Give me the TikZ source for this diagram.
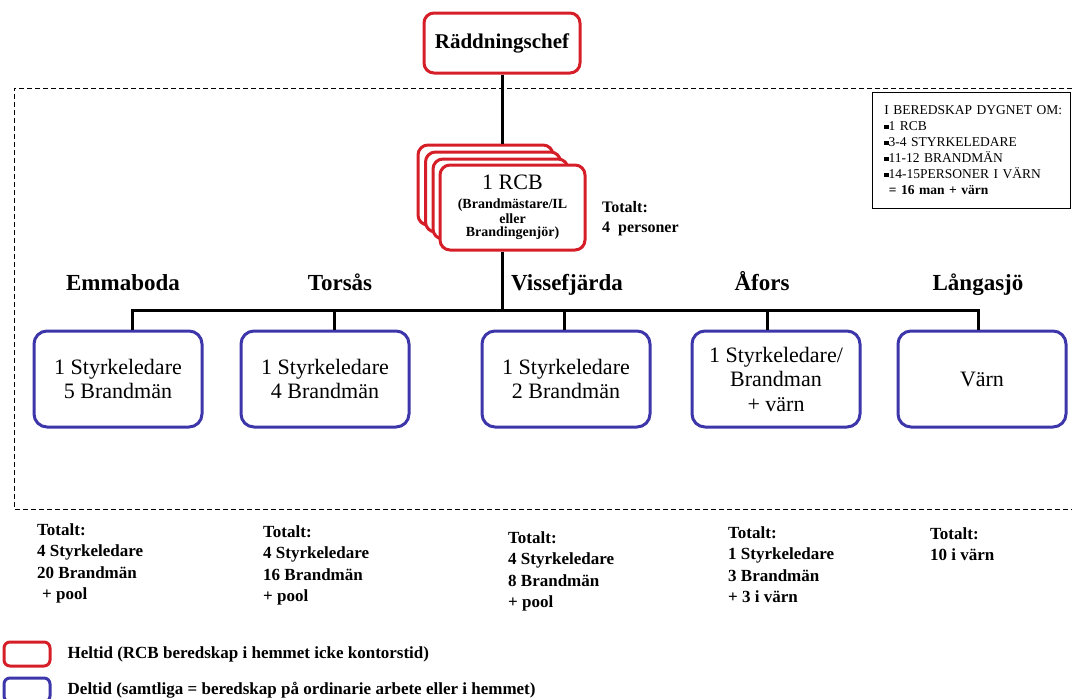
\documentclass[tikz,border=0pt]{standalone}
\usepackage{fontspec}
\setmainfont{Liberation Serif}
\usetikzlibrary{positioning}

\definecolor{heltidred}{RGB}{214,30,40}
\definecolor{deltidblue}{RGB}{60,54,170}
\newcommand{\sqbullet}{\rule[0.12em]{0.32em}{0.32em}}

\begin{document}
\begin{tikzpicture}[x=1pt, y=-1pt,
    link/.style={line width=3pt},
    heltid/.style={draw=heltidred, line width=3pt, rounded corners=10pt, fill=white, inner sep=0pt, align=center},
    deltid/.style={draw=deltidblue, line width=3pt, rounded corners=13pt, fill=white, inner sep=0pt, align=center,
        minimum width=168pt, minimum height=96pt, font=\fontsize{22}{24.5}\selectfont},
    ort/.style={inner sep=0pt, anchor=base, font=\bfseries\fontsize{23}{26}\selectfont},
    summa/.style={anchor=north west, inner sep=0pt, align=left, font=\bfseries\fontsize{17}{21.5}\selectfont}]

    \useasboundingbox (0,0) rectangle (1072,699);

    \draw[dashed, dash pattern=on 5pt off 3pt, line width=0.9pt] (1072,88) -- (14,88) -- (14,509) -- (1072,509);

    \node[heltid, minimum width=156pt, minimum height=60pt, font=\bfseries\fontsize{21}{24}\selectfont] (chef) at (502,43) {Räddningschef};

    % fyra RCB
    \foreach \i/\cx/\cy in {a/485.5/185, b/493/192, c/500.5/199}
        \node[heltid, minimum width=135pt, minimum height=80pt] (rcb\i) at (\cx,\cy) {};
    \node[heltid, minimum width=145pt, minimum height=85pt] (rcb) at (512.5,207.5)
        {\fontsize{22}{22}\selectfont 1 RCB\\[7pt]
         \bfseries\fontsize{14}{15}\selectfont (Brandmästare/IL\\[1pt]
         \bfseries\fontsize{14}{15}\selectfont eller\\[1pt]
         \bfseries\fontsize{14}{15}\selectfont Brandingenjör)};
    \node[summa, font=\bfseries\fontsize{16}{20}\selectfont] (rcbsum) at (602,201) {Totalt:\\4~~personer};

    \node[draw, line width=0.8pt, anchor=north west, inner xsep=6pt, text width=186pt, minimum height=116pt,
        align=left, font=\fontsize{13.5}{16}\selectfont] (info) at (872,92)
        {\hspace*{6pt}I BEREDSKAP DYGNET OM:\\
         \hspace*{6pt}\sqbullet1 RCB\\
         \hspace*{6pt}\sqbullet3-4 STYRKELEDARE\\
         \hspace*{6pt}\sqbullet11-12 BRANDMÄN\\
         \hspace*{6pt}\sqbullet14-15PERSONER I VÄRN\\
         \hspace*{6pt}\bfseries\ = 16 man + värn};

    \node[ort] (emmaort) at (123,290) {Emmaboda};
    \node[ort] (torsort) at (340,290) {Torsås};
    \node[ort] (vissort) at (567,290) {Vissefjärda};
    \node[ort] (aforsort) at (762,290) {Åfors};
    \node[ort] (langort) at (978,290) {Långasjö};

    \node[deltid] (emma) at (118,379) {1 Styrkeledare\\5 Brandmän};
    \node[deltid] (tors) at (325,379) {1 Styrkeledare\\4 Brandmän};
    \node[deltid] (viss) at (566,379) {1 Styrkeledare\\2 Brandmän};
    \node[deltid] (afors) at (776,379) {1 Styrkeledare/\\Brandman\\+ värn};
    \node[deltid] (lang) at (982,379) {Värn};

    \coordinate (bus) at (502,310);
    \draw[link] (chef.south) -- (chef.south |- rcba.north);
    \draw[link] (rcb.south -| chef.south) -- (bus);
    \draw[link] ([xshift=14pt]emma.north) |- (bus) -| ([xshift=-4pt]lang.north);
    \foreach \stn/\dx in {tors/9, viss/-2, afors/-9}
        \draw[link] ([xshift=\dx pt]\stn.north) -- ([xshift=\dx pt]\stn.north |- bus);

    \node[summa] (emmasum) at (37,523) {Totalt:\\4 Styrkeledare\\20 Brandmän\\\hspace*{5pt}+ pool};
    \node[summa] (torssum) at (263,525) {Totalt:\\4 Styrkeledare\\16 Brandmän\\+ pool};
    \node[summa] (visssum) at (508,531) {Totalt:\\4 Styrkeledare\\8 Brandmän\\+ pool};
    \node[summa] (aforssum) at (728,526) {Totalt:\\1 Styrkeledare\\3 Brandmän\\+ 3 i värn};
    \node[summa] (langsum) at (930,527) {Totalt:\\10 i värn};

    \node[heltid, minimum width=46pt, minimum height=24pt, rounded corners=6pt] (heltidkey) at (27,654) {};
    \node[deltid, minimum width=46pt, minimum height=24pt, rounded corners=6pt] (deltidkey) at (27,690) {};
    \node[right=16pt of heltidkey, inner sep=0pt, font=\bfseries\fontsize{17}{20}\selectfont] (heltidtext) {Heltid (RCB beredskap i hemmet icke kontorstid)};
    \node[right=16pt of deltidkey, inner sep=0pt, font=\bfseries\fontsize{17}{20}\selectfont] (deltidtext) {Deltid (samtliga = beredskap på ordinarie arbete eller i hemmet)};
\end{tikzpicture}
\end{document}
